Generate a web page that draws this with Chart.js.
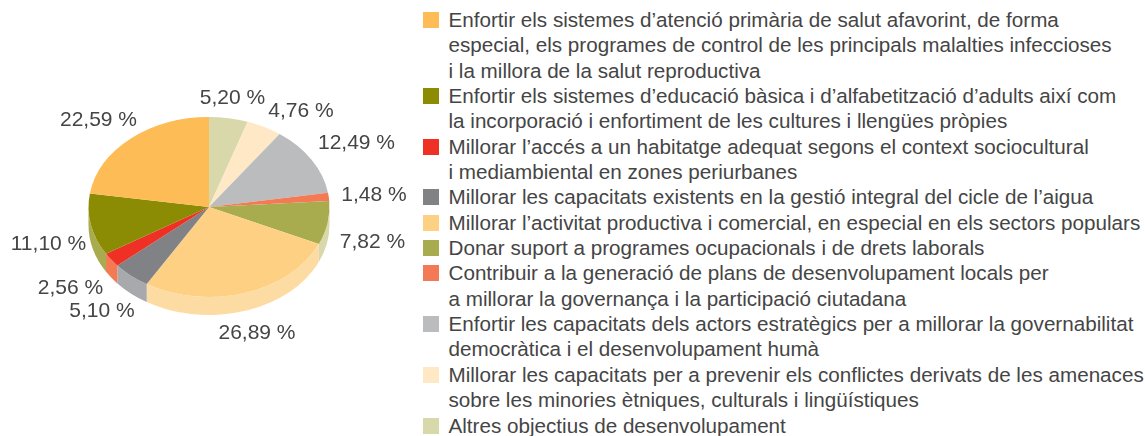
<!DOCTYPE html>
<html lang="ca">
<head>
<meta charset="utf-8">
<title>Objectius de desenvolupament</title>
<script src="https://cdn.jsdelivr.net/npm/chart.js@4"></script>
<style>
  html, body { margin: 0; padding: 0; background: #fff; }
  body { width: 1145px; height: 436px; position: relative; overflow: hidden; }
  #pieWrap { position: absolute; left: 0; top: 0; width: 418px; height: 414px; }
  #legend {
    position: absolute; left: 423px; top: 7px; width: 722px;
    font: 20.65px/25.35px "Liberation Sans", sans-serif; color: #454545; white-space: nowrap;
  }
  .row { position: relative; padding-left: 25.5px; }
  .swatch { position: absolute; left: 0; top: 5px; width: 16px; height: 16px; }
</style>
</head>
<body>
<div id="pieWrap"><canvas id="pie"></canvas></div>
<div id="legend"></div>
<script>
const values = [5.20, 4.76, 12.49, 1.48, 7.82, 26.89, 5.10, 2.56, 11.10, 22.59];
const valueLabels = ['5,20 %', '4,76 %', '12,49 %', '1,48 %', '7,82 %', '26,89 %', '5,10 %', '2,56 %', '11,10 %', '22,59 %'];
const topColors = ['#d9d8ab', '#fee8c6', '#bbbcbe', '#f47a55', '#a9ab4f', '#fed084', '#808285', '#ee3124', '#8b8b04', '#febc56'];
const sideColors = ['#d9d8ab', '#fee8c6', '#bbbcbe', '#f47a55', '#d9d8ab', '#fddca4', '#a7a9ac', '#f47a55', '#a9ab4f', '#febc56'];

// label centres relative to the page, same order as values
const labelPos = [[232.5, 98.5], [301, 111.5], [356.5, 143.5], [374, 195.5], [372.5, 242.5], [257, 333.5], [102, 311.5], [70.5, 288.5], [48.5, 244.5], [98.5, 120.5]];

// legend runs top to bottom, i.e. reversed pie order
const legendLines = [
  ['Enfortir els sistemes d’atenció primària de salut afavorint, de forma', 'especial, els programes de control de les principals malalties infeccioses', 'i la millora de la salut reproductiva'],
  ['Enfortir els sistemes d’educació bàsica i d’alfabetització d’adults així com', 'la incorporació i enfortiment de les cultures i llengües pròpies'],
  ['Millorar l’accés a un habitatge adequat segons el context sociocultural', 'i mediambiental en zones periurbanes'],
  ['Millorar les capacitats existents en la gestió integral del cicle de l’aigua'],
  ['Millorar l’activitat productiva i comercial, en especial en els sectors populars'],
  ['Donar suport a programes ocupacionals i de drets laborals'],
  ['Contribuir a la generació de plans de desenvolupament locals per', 'a millorar la governança i la participació ciutadana'],
  ['Enfortir les capacitats dels actors estratègics per a millorar la governabilitat', 'democràtica i el desenvolupament humà'],
  ['Millorar les capacitats per a prevenir els conflictes derivats de les amenaces', 'sobre les minories ètniques, culturals i lingüístiques'],
  ['Altres objectius de desenvolupament']
];
const legendColors = ['#febc56', '#8b8b04', '#ee3124', '#808285', '#fed084', '#a9ab4f', '#f47a55', '#bbbcbe', '#fee8c6', '#d9d8ab'];

const TILT = 90 / 120.5;   // vertical squash of the pie
const DEPTH = 18;          // thickness of the wall

const tiltedPie = {
  id: 'tiltedPie',
  beforeDatasetsDraw(chart) {
    const { ctx } = chart;
    const arcs = chart.getDatasetMeta(0).data;
    const { x, y, outerRadius } = arcs[0];
    // wall, only the front half shows
    arcs.forEach((arc, i) => {
      const a = Math.max(arc.startAngle, 0);
      const b = Math.min(arc.endAngle, Math.PI);
      if (a >= b) return;
      ctx.beginPath();
      ctx.ellipse(x, y, outerRadius, outerRadius * TILT, 0, a, b);
      ctx.ellipse(x, y + DEPTH, outerRadius, outerRadius * TILT, 0, b, a, true);
      ctx.closePath();
      ctx.fillStyle = sideColors[i];
      ctx.fill();
    });
    ctx.save();
    ctx.translate(x, y);
    ctx.scale(1, TILT);
    ctx.translate(-x, -y);
  },
  afterDatasetsDraw(chart) {
    const { ctx } = chart;
    ctx.restore();
    ctx.save();
    ctx.font = '21px "Liberation Sans", sans-serif';
    ctx.fillStyle = '#454545';
    ctx.textAlign = 'center';
    ctx.textBaseline = 'middle';
    valueLabels.forEach((t, i) => ctx.fillText(t, labelPos[i][0], labelPos[i][1]));
    ctx.restore();
  }
};

new Chart(document.getElementById('pie'), {
  type: 'pie',
  data: {
    labels: valueLabels,
    datasets: [{ data: values, backgroundColor: topColors, borderWidth: 0 }]
  },
  options: {
    responsive: true,
    maintainAspectRatio: false,
    animation: false,
    radius: 120.5,
    plugins: { legend: { display: false }, tooltip: { enabled: false } }
  },
  plugins: [tiltedPie]
});

document.getElementById('legend').innerHTML = legendLines.map((lines, i) =>
  `<div class="row"><span class="swatch" style="background:${legendColors[i]}"></span>${lines.join('<br>')}</div>`
).join('');
</script>
</body>
</html>
